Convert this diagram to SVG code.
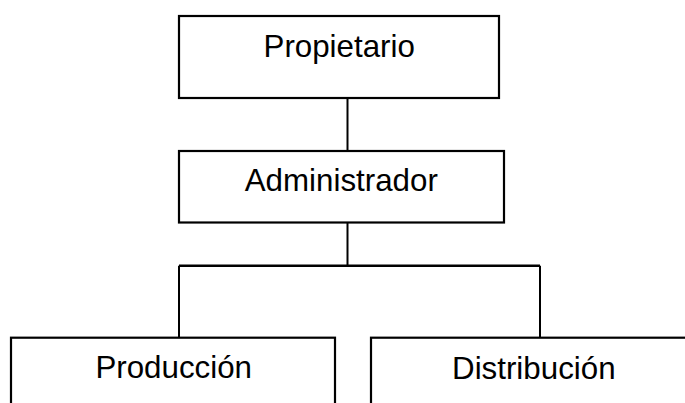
<svg xmlns="http://www.w3.org/2000/svg" width="685" height="403" viewBox="0 0 685 403">
<style>
.box{fill:#fff;stroke:#000;stroke-width:2.2}
.lbl{font-family:"Liberation Sans",Arial,sans-serif;font-size:31.3px;fill:#000;text-anchor:middle}
.con{fill:none;stroke:#000;stroke-width:2}
</style>
<rect width="685" height="403" fill="#fff"/>
<g id="connectors">
<line class="con" x1="347.5" y1="98" x2="347.5" y2="151"/>
<line class="con" x1="347.5" y1="222.5" x2="347.5" y2="265.7"/>
<line class="con" x1="179" y1="265.7" x2="540" y2="265.7" style="stroke-width:2.4"/>
<line class="con" x1="179" y1="265.7" x2="179" y2="337.7"/>
<line class="con" x1="540" y1="265.7" x2="540" y2="337.7"/>
</g>
<g id="propietario">
<rect class="box" x="179" y="16" width="320" height="82"/>
<text class="lbl" x="339.2" y="56.7">Propietario</text>
</g>
<g id="administrador">
<rect class="box" x="179" y="151" width="325" height="71.5"/>
<text class="lbl" x="341.3" y="190.7">Administrador</text>
</g>
<g id="produccion">
<rect class="box" x="11" y="337.7" width="324" height="100"/>
<text class="lbl" x="173.7" y="378.3">Producción</text>
</g>
<g id="distribucion">
<rect class="box" x="371" y="337.7" width="330" height="100"/>
<text class="lbl" x="533.8" y="379">Distribución</text>
</g>
</svg>
